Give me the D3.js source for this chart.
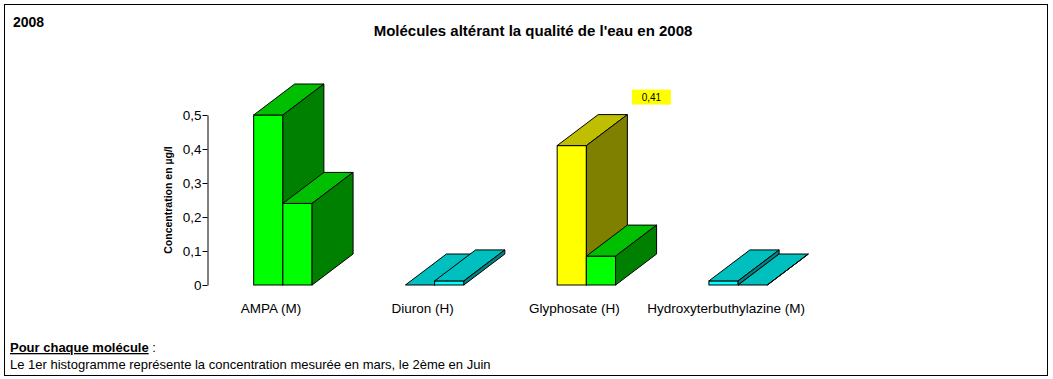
<!DOCTYPE html>
<html>
<head>
<meta charset="utf-8">
<script src="https://cdn.jsdelivr.net/npm/d3@7/dist/d3.min.js"></script>
<style>
  html, body { margin: 0; padding: 0; background: #fff; }
  svg text { font-family: "Liberation Sans", Arial, sans-serif; }
</style>
</head>
<body>
<svg id="chart" width="1053" height="379"></svg>
<script>
// Molecules measured in 2008
const categories = ["AMPA (M)", "Diuron (H)", "Glyphosate (H)", "Hydroxyterbuthylazine (M)"];
// Concentrations in µg/l: first measurement (March) and second (June)
const marsValues = [0.5, 0, 0.41, 0.012];
const juinValues = [0.24, 0.012, 0.085, 0];
// Front-face colours of each column
const marsColors = ["#00FF00", "#00FFFF", "#FFFF00", "#00FFFF"];
const juinColors = ["#00FF00", "#00FFFF", "#00FF00", "#00FFFF"];
const yTicks = [0, 0.1, 0.2, 0.3, 0.4, 0.5];
// The one column carrying a value label
const labelledCategory = "Glyphosate (H)";

const svg = d3.select("#chart");

// frame
svg.append("rect")
  .attr("x", 4.5).attr("y", 4.5)
  .attr("width", 1043).attr("height", 371)
  .attr("fill", "none").attr("stroke", "#000").attr("stroke-width", 1);

svg.append("text")
  .attr("x", 13).attr("y", 27)
  .attr("font-size", 14).attr("font-weight", "bold")
  .text("2008");

svg.append("text")
  .attr("x", 533).attr("y", 36)
  .attr("text-anchor", "middle")
  .attr("font-size", 15).attr("font-weight", "bold")
  .text("Molécules altérant la qualité de l'eau en 2008");

// scales
const x = d3.scaleBand().domain(categories).range([207, 814]).paddingInner(0).paddingOuter(0);
const y = d3.scaleLinear().domain([0, 0.5]).range([285, 115]);
const barW = x.bandwidth() * 0.1925;
const depth = { dx: 41, dy: -31 };

const fmt = v => v === 0 ? "0" : d3.format(".1f")(v).replace(".", ",");

// value axis
const yAxis = d3.axisLeft(y).tickValues(yTicks).tickFormat(fmt).tickSize(5).tickSizeOuter(0);
const gy = svg.append("g").attr("transform", "translate(207.5,0)").call(yAxis);
gy.select(".domain").attr("stroke", "#000");
gy.selectAll(".tick line").attr("stroke", "#000");
gy.selectAll(".tick text")
  .attr("font-family", "Liberation Sans, Arial, sans-serif")
  .attr("font-size", 13.5).attr("fill", "#000").attr("x", -6);

svg.append("text")
  .attr("transform", "translate(172,200) rotate(-90)")
  .attr("text-anchor", "middle")
  .attr("font-size", 10.5).attr("font-weight", "bold")
  .text("Concentration en µg/l");

// 3D column drawing
const shade = (c, k) => {
  const col = d3.rgb(c);
  return d3.rgb(col.r * k, col.g * k, col.b * k).formatHex();
};

function column(g, x0, value, color) {
  const x1 = x0 + barW;
  const yt = y(value), yb = y(0);
  const { dx, dy } = depth;
  const pts = a => a.map(p => p.join(",")).join(" ");
  g.append("rect")
    .attr("x", x0).attr("y", yt)
    .attr("width", barW).attr("height", yb - yt)
    .attr("fill", color).attr("stroke", "#000").attr("stroke-width", 1);
  g.append("polygon")
    .attr("points", pts([[x0, yt], [x1, yt], [x1 + dx, yt + dy], [x0 + dx, yt + dy]]))
    .attr("fill", shade(color, 0.75)).attr("stroke", "#000").attr("stroke-width", 1)
    .attr("stroke-linejoin", "round");
  g.append("polygon")
    .attr("points", pts([[x1, yt], [x1 + dx, yt + dy], [x1 + dx, yb + dy], [x1, yb]]))
    .attr("fill", shade(color, 0.5)).attr("stroke", "#000").attr("stroke-width", 1)
    .attr("stroke-linejoin", "round");
}

const bars = svg.append("g");
categories.forEach((c, i) => {
  const center = x(c) + x.bandwidth() / 2;
  const g = bars.append("g");
  column(g, center - barW, marsValues[i], marsColors[i]);
  column(g, center, juinValues[i], juinColors[i]);
});

// value label on the highlighted column
{
  const i = categories.indexOf(labelledCategory);
  const v = marsValues[i];
  const center = x(labelledCategory) + x.bandwidth() / 2;
  const bx = center + depth.dx + 4.5;
  const by = y(v) + depth.dy - 25;
  svg.append("rect")
    .attr("x", bx).attr("y", by).attr("width", 39).attr("height", 15)
    .attr("fill", "#FFFF00");
  svg.append("text")
    .attr("x", bx + 19.5).attr("y", by + 11)
    .attr("text-anchor", "middle").attr("font-size", 10)
    .text(d3.format(".2f")(v).replace(".", ","));
}

// category labels
svg.append("g").selectAll("text")
  .data(categories)
  .join("text")
  .attr("x", d => x(d) + x.bandwidth() / 2 - 12)
  .attr("y", 313)
  .attr("text-anchor", "middle")
  .attr("font-size", 13.5)
  .text(d => d);

// footnote
const note = svg.append("text").attr("x", 10).attr("y", 352).attr("font-size", 13);
note.append("tspan").attr("font-weight", "bold").attr("text-decoration", "underline").text("Pour chaque molécule");
note.append("tspan").text(" :");
svg.append("text").attr("x", 10).attr("y", 369).attr("font-size", 13)
  .text("Le 1er histogramme représente la concentration mesurée en mars, le 2ème en Juin");
</script>
</body>
</html>
